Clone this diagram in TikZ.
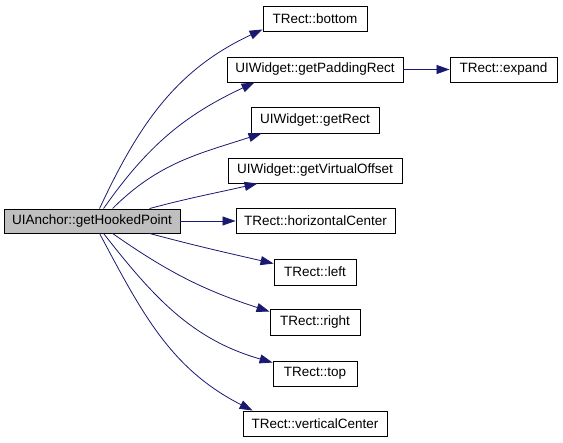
\documentclass[tikz,border=0pt]{standalone}
\usepackage{fontspec}
\setmainfont{Liberation Sans}
\usetikzlibrary{arrows.meta}
\definecolor{edgeblue}{RGB}{25,25,112}
\definecolor{maingray}{RGB}{191,191,191}
\tikzset{
  fn/.style={draw=black, line width=0.9pt, fill=white, inner sep=0pt, minimum height=25pt, font=\fontsize{13.5}{15}\selectfont, anchor=center},
  call/.style={draw=edgeblue, line width=0.8pt, -{Triangle[length=13pt,width=9pt]}},
}
\begin{document}
\begin{tikzpicture}[x=1pt,y=1pt]
\useasboundingbox (0,0) rectangle (563,-443);
\node[fn, fill=maingray, minimum width=176pt, minimum height=24pt] (main) at (92,-221) {UIAnchor::getHookedPoint};
\node[fn, minimum width=104pt] (bottom) at (315,-18.5) {TRect::bottom};
\node[fn, minimum width=176pt] (padding) at (315,-69.5) {UIWidget::getPaddingRect};
\node[fn, minimum width=107pt] (expand) at (503.5,-69.5) {TRect::expand};
\node[fn, minimum width=128pt, minimum height=26pt] (rect) at (315,-120) {UIWidget::getRect};
\node[fn, minimum width=174pt] (voffset) at (315,-170.5) {UIWidget::getVirtualOffset};
\node[fn, minimum width=159pt] (hcenter) at (315.5,-221) {TRect::horizontalCenter};
\node[fn, minimum width=82pt, minimum height=26pt] (left) at (315,-272) {TRect::left};
\node[fn, minimum width=90pt, minimum height=26pt] (right) at (315,-322) {TRect::right};
\node[fn, minimum width=84pt] (top) at (315,-373.5) {TRect::top};
\node[fn, minimum width=144pt] (vcenter) at (315,-423.5) {TRect::verticalCenter};

\draw[call] ([xshift=96pt]main.north west) to[out=65,in=205] ([yshift=2pt]bottom.south west);
\draw[call] ([xshift=100pt]main.north west) to[out=55,in=205] ([xshift=28pt]padding.south west);
\draw[call] ([xshift=109pt]main.north west) to[out=45,in=198] ([xshift=11pt]rect.south west);
\draw[call] ([xshift=146pt]main.north west) to[out=15,in=193] ([xshift=30pt]voffset.south west);
\draw[call] (main.east) -- (hcenter.west);
\draw[call] ([xshift=146pt]main.south west) to[out=-15,in=167] ([yshift=-5pt]left.north west);
\draw[call] ([xshift=109pt]main.south west) to[out=-35,in=162] ([yshift=-3pt]right.north west);
\draw[call] ([xshift=100pt]main.south west) to[out=-52,in=164] ([yshift=-2pt]top.north west);
\draw[call] ([xshift=96pt]main.south west) to[out=-62,in=153] ([xshift=10pt]vcenter.north west);
\draw[call] (padding.east) -- (expand.west);
\end{tikzpicture}
\end{document}
